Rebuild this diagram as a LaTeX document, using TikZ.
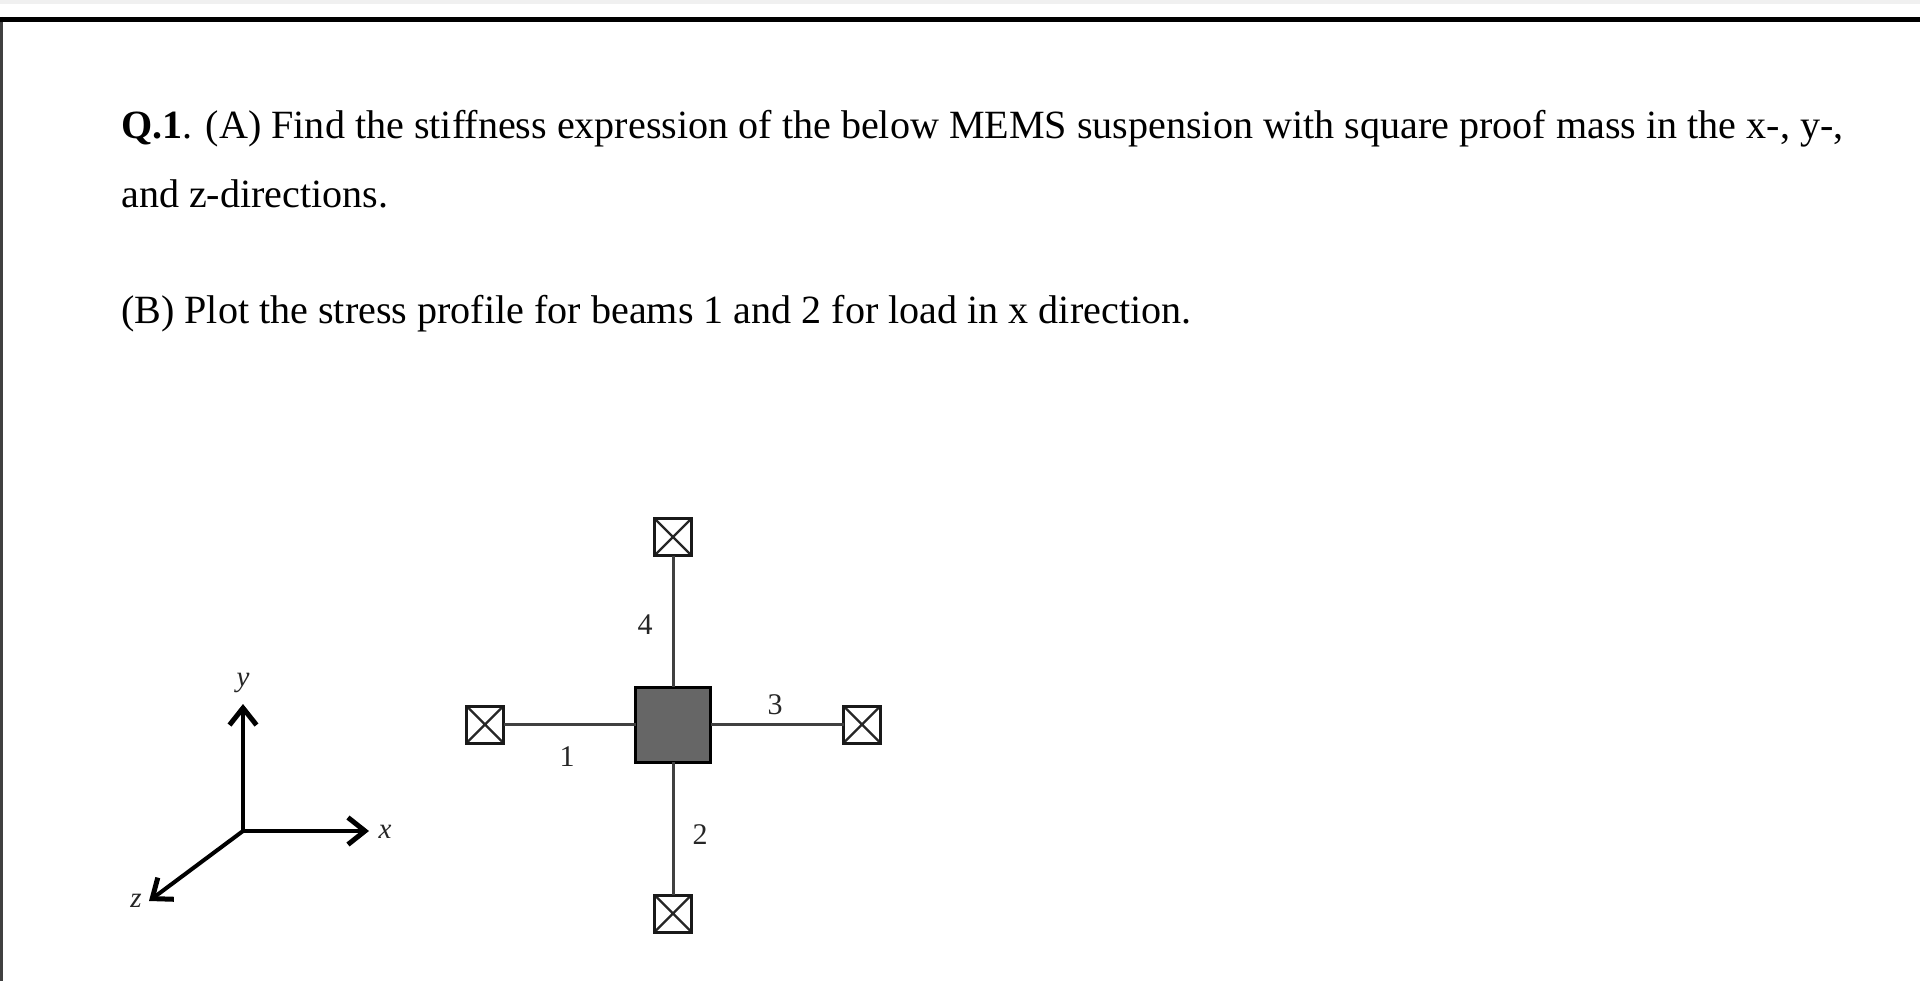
\documentclass[tikz,border=0pt]{standalone}
\usepackage{fontspec}
\setmainfont{Liberation Serif}
\usetikzlibrary{arrows.meta}
\definecolor{massgray}{HTML}{666666}
\definecolor{beamgray}{HTML}{404040}
\tikzset{
  txt/.style={anchor=base west,inner sep=0pt,font=\fontsize{40.1}{40}\selectfont,text=black},
  lab/.style={inner sep=0pt,font=\fontsize{30}{30}\selectfont,text=black!85},
  axlab/.style={inner sep=0pt,font=\fontsize{29}{29}\selectfont\itshape,text=black!85},
  anchorbox/.style={draw=black!90,line width=3pt,fill=white,minimum size=37pt,inner sep=0pt,outer sep=0pt,
    path picture={\draw[line width=2.2pt,black!85] (path picture bounding box.north west)--(path picture bounding box.south east)
      (path picture bounding box.north east)--(path picture bounding box.south west);}},
  mass/.style={draw=black,line width=3pt,fill=massgray,minimum size=75pt,inner sep=0pt,outer sep=0pt},
  beam/.style={draw=beamgray,line width=3pt},
  axis/.style={draw=black,line width=4pt,-{Straight Barb[length=17pt,width=27pt,line width=5pt]}},
  frame/.style={draw=black,line width=5pt},
  edge/.style={draw=black!75,line width=3pt}
}
\begin{document}
\begin{tikzpicture}[x=1pt,y=-1pt]
\useasboundingbox (0,0) rectangle (1920,981);
\fill[white] (0,0) rectangle (1920,981);
\fill[black!6] (0,0) rectangle (1920,4);
\coordinate (fa) at (0,19.5); \coordinate (fb) at (1920,19.5);
\coordinate (ea) at (1.5,17); \coordinate (eb) at (1.5,981);
\draw[edge] (ea)--(eb);
\draw[frame] (fa)--(fb);
\node[txt] (l1) at (121,139) {\textbf{Q.1}. (A) Find the stiffness expression of the below MEMS suspension with square proof mass in the x-, y-,};
\node[txt] (l2) at (121,208) {and z-directions.};
\node[txt] (l3) at (121,324) {(B) Plot the stress profile for beams 1 and 2 for load in x direction.};
% suspension
\node[mass] (m) at (673,724.5) {};
\node[anchorbox] (a4) at (673,537) {};
\node[anchorbox] (a2) at (673,913.5) {};
\node[anchorbox] (a1) at (485,724.5) {};
\node[anchorbox] (a3) at (862,724.5) {};
\draw[beam] (a4)--(m);
\draw[beam] (a2)--(m);
\draw[beam] (a1)--(m);
\draw[beam] (a3)--(m);
\node[lab] (n4) at (645,625) {4};
\node[lab] (n3) at (775,705) {3};
\node[lab] (n1) at (567,757) {1};
\node[lab] (n2) at (700,835) {2};
% axes
\coordinate (o) at (243,831);
\coordinate (ty) at (243,704);
\coordinate (tx) at (369,831);
\coordinate (tz) at (149,901);
\draw[axis] (o)--(ty);
\draw[axis] (o)--(tx);
\draw[axis] (o)--(tz);
\node[axlab] (ly) at (243,683) {y};
\node[axlab] (lx) at (385,832) {x};
\node[axlab] (lz) at (136,901) {z};
\end{tikzpicture}
\end{document}
